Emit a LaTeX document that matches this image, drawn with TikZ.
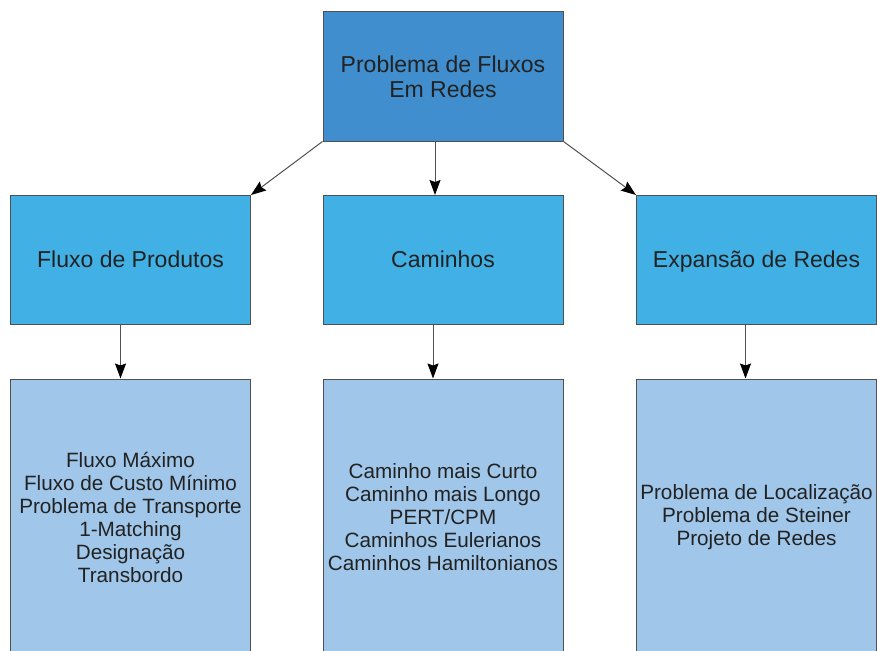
\documentclass[tikz,border=0pt]{standalone}
\usepackage{fontspec}
\setmainfont{Liberation Sans}
\usetikzlibrary{arrows.meta}

\definecolor{topblue}{RGB}{64,142,205}
\definecolor{midblue}{RGB}{65,176,228}
\definecolor{lowblue}{RGB}{160,198,233}
\definecolor{edgegray}{RGB}{80,80,80}
\definecolor{txtgray}{RGB}{34,34,34}

\tikzstyle{block} = [
        draw=edgegray,
        line width=1pt,
        rectangle,
        inner sep=0pt,
        align=center,
        text=txtgray,
        minimum width=240pt,
        minimum height=129pt,
        font=\fontsize{23}{25}\selectfont
    ]
\tikzstyle{head} = [
        block,
        fill=midblue,
        text height=18pt,
        text depth=4pt
    ]
\tikzstyle{list} = [
        block,
        fill=lowblue,
        minimum height=276pt,
        font=\fontsize{20.7}{23}\selectfont
    ]
\tikzstyle{arr} = [
        -{Stealth[length=15pt,width=11pt,inset=2pt,color=black]},
        draw=edgegray,
        line width=1pt
    ]

\begin{document}
\begin{tikzpicture}[x=1pt, y=-1pt, node distance=183.5pt]
        \clip (0,0) rectangle (877,650);
        \node(prob) [block, fill=topblue] at (443,76.5)
            {Problema de Fluxos\\Em Redes};
        \node(cami) [head, below of=prob] {Caminhos};
        \node(flux) [head, left of=cami, xshift=-129pt] {Fluxo de Produtos};
        \node(expa) [head, right of=cami, xshift=130pt] {Expansão de Redes};
        \node(lflx) [list, below of=flux, yshift=-73.5pt]
            {Fluxo Máximo\\Fluxo de Custo Mínimo\\Problema de Transporte\\
             1-Matching\\Designação\\Transbordo};
        \node(lcam) [list, below of=cami, yshift=-73.5pt]
            {Caminho mais Curto\\Caminho mais Longo\\PERT/CPM\\
             Caminhos Eulerianos\\Caminhos Hamiltonianos};
        \node(lexp) [list, below of=expa, yshift=-73.5pt]
            {Problema de Localização\\Problema de Steiner\\Projeto de Redes};
        \draw[arr] (prob.south west) -- (flux.north east);
        \draw[arr] ([xshift=-8pt]prob.south) -- ([xshift=-8pt]cami.north);
        \draw[arr] (prob.south east) -- (expa.north west);
        \draw[arr] ([xshift=-10pt]flux.south) -- ([xshift=-10pt]lflx.north);
        \draw[arr] ([xshift=-10pt]cami.south) -- ([xshift=-10pt]lcam.north);
        \draw[arr] ([xshift=-11pt]expa.south) -- ([xshift=-11pt]lexp.north);
    \end{tikzpicture}
\end{document}
